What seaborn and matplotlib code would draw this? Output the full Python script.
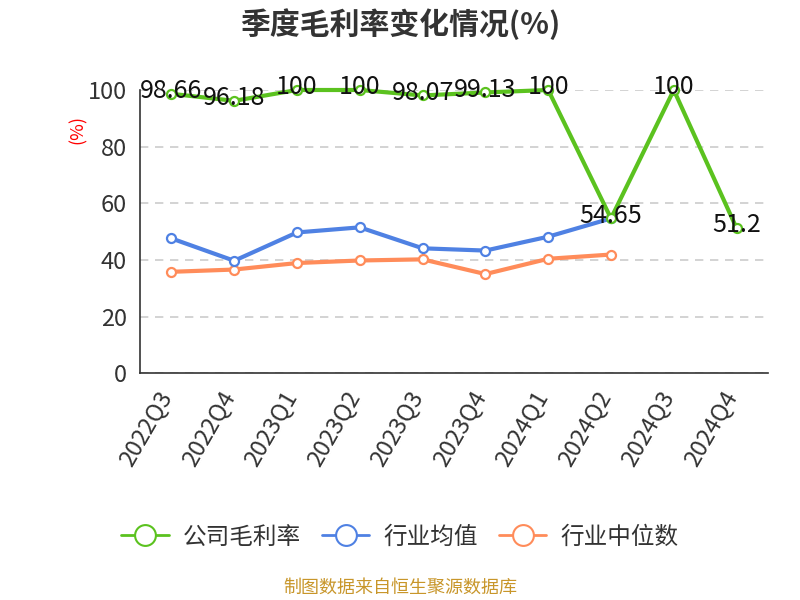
import matplotlib
matplotlib.use("Agg")
import matplotlib.pyplot as plt
import matplotlib.transforms as mtrans
from matplotlib.lines import Line2D
import numpy as np
import pandas as pd
import seaborn as sns

quarters = ["2022Q3", "2022Q4", "2023Q1", "2023Q2", "2023Q3", "2023Q4",
            "2024Q1", "2024Q2", "2024Q3", "2024Q4"]
company = [98.66, 96.18, 100, 100, 98.07, 99.13, 100, 54.65, 100, 51.2]
industry_avg = [47.6, 39.7, 49.7, 51.5, 44.1, 43.3, 48.2, 54.65, None, None]
industry_median = [35.8, 36.6, 38.9, 39.8, 40.2, 35.0, 40.4, 41.9, None, None]
series_names = ["公司毛利率", "行业均值", "行业中位数"]
colors = ["#5bc21f", "#4f81e3", "#ff8c5a"]

sns.set_style("white")
plt.rcParams['font.family'] = ['Noto Sans CJK SC', 'DejaVu Sans']

rows = []
for name, vals in zip(series_names, [company, industry_avg, industry_median]):
    for i, v in enumerate(vals):
        if v is not None:
            rows.append({"x": i, "value": v, "series": name})
df = pd.DataFrame(rows)

fig = plt.figure(figsize=(8, 6), dpi=100)
ax = fig.add_axes([0.175, 0.378, 0.785, 0.472])

for name, col in zip(series_names[::-1], colors[::-1]):
    sub = df[df.series == name]
    sns.lineplot(data=sub, x="x", y="value", ax=ax, color=col, lw=3,
                 marker="o", markersize=6.5, markerfacecolor="white",
                 markeredgecolor=col, markeredgewidth=1.6, legend=False,
                 clip_on=False, zorder=3)

for i, v in enumerate(company):
    lab = f"{v:g}"
    ax.text(i, v + 1.0, lab, ha="center", va="center", fontsize=18,
            color="#111111", zorder=5)

ax.set_xlim(-0.5, len(quarters) - 0.5)
ax.set_ylim(0, 100)
ax.set_yticks([0, 20, 40, 60, 80, 100])
ax.set_xticks(range(len(quarters)))
ax.set_xticks(np.arange(-0.5, len(quarters), 1), minor=True)
ax.tick_params(axis="x", which="major", length=0, pad=10)
ax.tick_params(axis="x", which="minor", length=6, width=1.2, color="#333333")
ax.tick_params(axis="y", length=6, width=1.2, color="#333333",
               labelsize=17, labelcolor="#333333")
ax.set_xticklabels(quarters, rotation=60, ha="right", rotation_mode="anchor",
                   fontsize=17, color="#333333")
ax.yaxis.grid(True, ls=(0, (5, 4)), color="#cccccc", lw=1.2)
ax.set_axisbelow(True)
for s in ["top", "right"]:
    ax.spines[s].set_visible(False)
for s in ["left", "bottom"]:
    ax.spines[s].set_color("#333333")
    ax.spines[s].set_linewidth(1.2)
ax.set_xlabel("")
ax.set_ylabel("(%)", color="red", fontsize=13)
ax.yaxis.set_label_coords(-0.085, 0.86)

fig.text(0.5, 0.96, "季度毛利率变化情况(%)", ha="center", va="center",
         fontsize=21.5, fontweight="bold", color="#333333")

handles = [Line2D([0], [0], color=c, lw=2, marker="o", markersize=15,
                  markerfacecolor="white", markeredgecolor=c, markeredgewidth=1.5)
           for c in colors]
fig.legend(handles, series_names, loc="center", bbox_to_anchor=(0.5, 0.105),
           ncol=3, frameon=False, fontsize=17, handlelength=2.0,
           columnspacing=0.9, handletextpad=0.6, labelcolor="#333333")

fig.text(0.5, 0.02, "制图数据来自恒生聚源数据库", ha="center", va="center",
         fontsize=13, color="#c8962a")

offset = mtrans.ScaledTranslation(-0.15, 0, fig.dpi_scale_trans)
for tick in ax.xaxis.get_major_ticks():
    tick.label1.set_transform(tick.label1.get_transform() + offset)

fig.savefig("out.png", dpi=100)
